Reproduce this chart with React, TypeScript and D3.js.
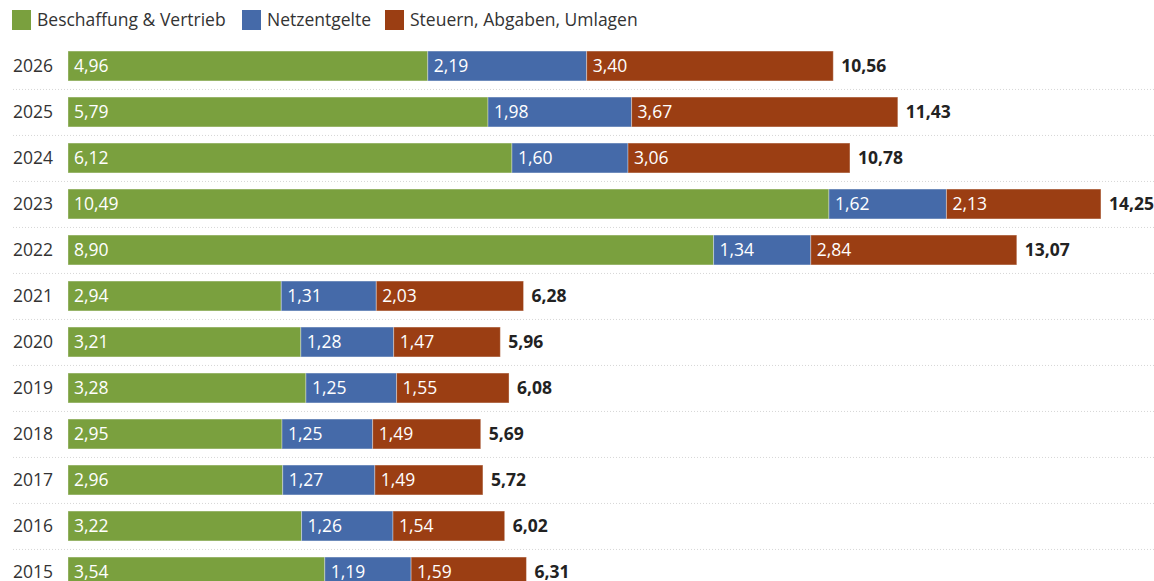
import React from "react";
import * as d3 from "d3";

// values in ct/kWh per year
const years = ["2026", "2025", "2024", "2023", "2022", "2021", "2020", "2019", "2018", "2017", "2016", "2015"];
const beschaffung = [4.96, 5.79, 6.12, 10.49, 8.9, 2.94, 3.21, 3.28, 2.95, 2.96, 3.22, 3.54];
const netzentgelte = [2.19, 1.98, 1.6, 1.62, 1.34, 1.31, 1.28, 1.25, 1.25, 1.27, 1.26, 1.19];
const steuern = [3.4, 3.67, 3.06, 2.13, 2.84, 2.03, 1.47, 1.55, 1.49, 1.49, 1.54, 1.59];
const totals = [10.56, 11.43, 10.78, 14.25, 13.07, 6.28, 5.96, 6.08, 5.69, 5.72, 6.02, 6.31];

const seriesNames = ["Beschaffung & Vertrieb", "Netzentgelte", "Steuern, Abgaben, Umlagen"];
const seriesColors = ["#7aa03e", "#456aa9", "#9b3e13"];

const W = 1154;
const H = 581;
const FONT = "'Open Sans', sans-serif";
const FS = 17.5;

const de = d3.formatLocale({ decimal: ",", thousands: ".", grouping: [3], currency: ["", " €"] });
const fmt = de.format(".2f");

export default function App() {
  const rows = years.map((y, i) => ({
    year: y,
    values: [beschaffung[i], netzentgelte[i], steuern[i]],
    total: totals[i],
  }));

  // x scale: bars start at 68
  const x = d3.scaleLinear().domain([0, 10.56]).range([68, 834]);

  // rows
  const y = d3
    .scaleBand()
    .domain(years)
    .range([43, 43 + years.length * 46])
    .paddingInner(0.35)
    .paddingOuter(0.175);

  const bw = y.bandwidth();

  return (
    <div>
      <style>{`body{margin:0}`}</style>
      <svg width={W} height={H} style={{ display: "block", fontFamily: FONT }}>
        {/* legend */}
        {(() => {
          let lx = 12;
          const widths = [230, 143, 260];
          return seriesNames.map((name, i) => {
            const g = (
              <g key={name} transform={`translate(${lx},10)`}>
                <rect width={19} height={20} fill={seriesColors[i]} />
                <text x={25} y={16} fontSize={FS} fill="#333">
                  {name}
                </text>
              </g>
            );
            lx += widths[i];
            return g;
          });
        })()}

        {/* separators */}
        {rows.slice(0, -1).map((r) => {
          const sy = (y(r.year) as number) + bw + 8.5;
          return (
            <line
              key={"sep" + r.year}
              x1={13}
              x2={W}
              y1={sy}
              y2={sy}
              stroke="#d6d6d6"
              strokeWidth={1}
              strokeDasharray="1 2"
            />
          );
        })}

        {rows.map((r) => {
          const top = y(r.year) as number;
          const cy = top + bw / 2;
          let acc = 0;
          return (
            <g key={r.year}>
              <text x={13} y={cy} dy="0.35em" fontSize={FS} fill="#333">
                {r.year}
              </text>
              {r.values.map((v, i) => {
                const x0 = x(acc);
                acc += v;
                const x1 = x(acc);
                return (
                  <g key={i}>
                    <rect
                      x={x0}
                      y={top}
                      width={x1 - x0}
                      height={bw}
                      fill={seriesColors[i]}
                      stroke="#ffffff"
                      strokeOpacity={0.35}
                      strokeWidth={1}
                    />
                    <text x={x0 + 6} y={cy} dy="0.35em" fontSize={FS} fill="#fff">
                      {fmt(v)}
                    </text>
                  </g>
                );
              })}
              <text x={x(acc) + 8} y={cy} dy="0.35em" fontSize={FS} fontWeight="bold" fill="#222">
                {fmt(r.total)}
              </text>
            </g>
          );
        })}
      </svg>
    </div>
  );
}
